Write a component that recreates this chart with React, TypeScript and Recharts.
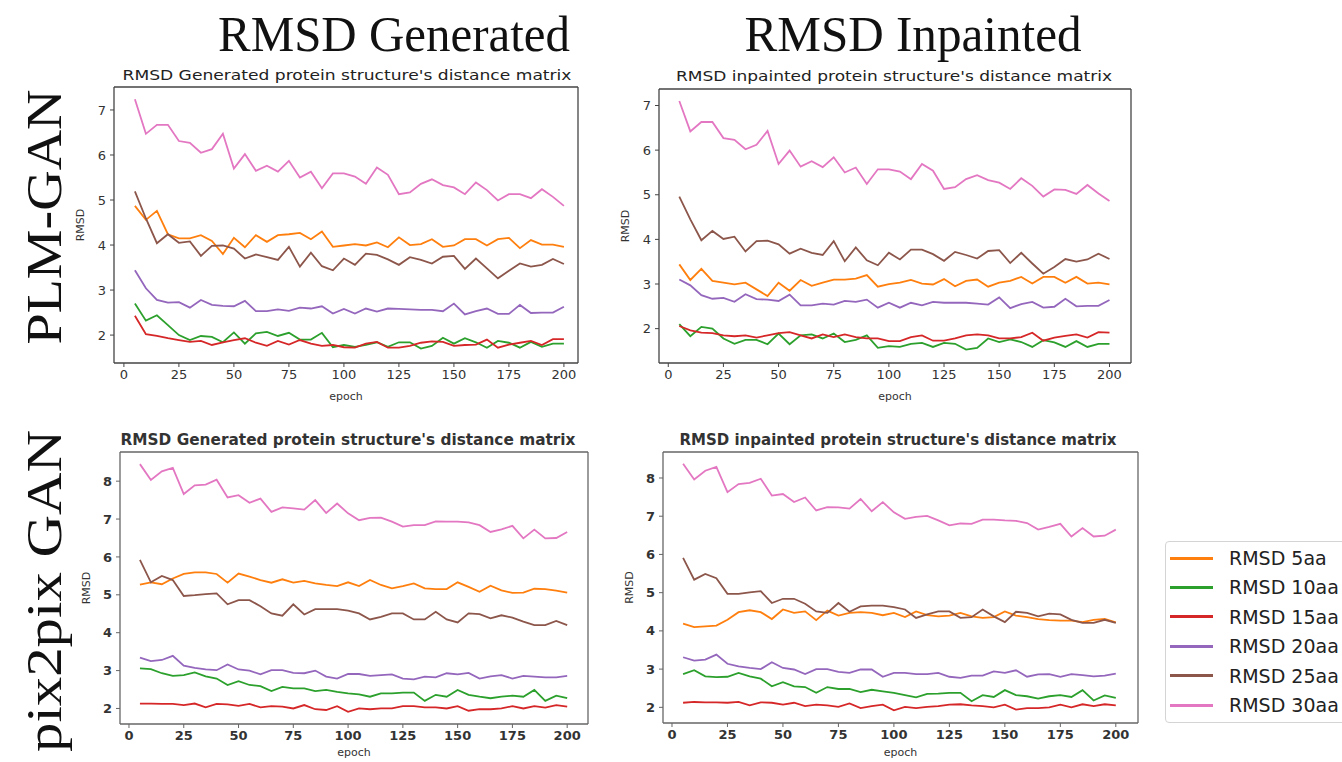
import React from "react";
import { LineChart, Line, XAxis, YAxis, Label } from "recharts";

// epochs shared by all four panels
const EPOCHS = [
  5, 10, 15, 20, 25, 30, 35, 40, 45, 50, 55, 60, 65, 70, 75, 80, 85, 90, 95, 100,
  105, 110, 115, 120, 125, 130, 135, 140, 145, 150, 155, 160, 165, 170, 175, 180, 185, 190, 195, 200,
];
const X_TICKS = [0, 25, 50, 75, 100, 125, 150, 175, 200];
const Y_TICKS_TOP = [2, 3, 4, 5, 6, 7];
const Y_TICKS_BOTTOM = [2, 3, 4, 5, 6, 7, 8];

const SERIES_NAMES = ["RMSD 5aa", "RMSD 10aa", "RMSD 15aa", "RMSD 20aa", "RMSD 25aa", "RMSD 30aa"];
const COLORS = ["#ff7f0e", "#2ca02c", "#d62728", "#9467bd", "#8c564b", "#e377c2"];

// PLM-GAN, generated
const PLM_GEN_5 = [4.87, 4.56, 4.76, 4.24, 4.15, 4.15, 4.22, 4.09, 3.8, 4.16, 3.95, 4.22, 4.07, 4.22, 4.24, 4.27, 4.13, 4.3, 3.96, 3.99, 4.02, 3.99, 4.06, 3.95, 4.17, 4.0, 4.02, 4.13, 3.96, 3.99, 4.13, 4.13, 3.99, 4.13, 4.16, 3.93, 4.11, 4.01, 4.01, 3.96];
const PLM_GEN_10 = [2.7, 2.32, 2.44, 2.22, 2.0, 1.89, 1.98, 1.96, 1.84, 2.06, 1.81, 2.04, 2.07, 1.98, 2.05, 1.9, 1.9, 2.05, 1.73, 1.78, 1.74, 1.78, 1.84, 1.74, 1.84, 1.84, 1.7, 1.76, 1.94, 1.81, 1.93, 1.84, 1.72, 1.87, 1.83, 1.72, 1.85, 1.74, 1.81, 1.81];
const PLM_GEN_15 = [2.43, 2.02, 1.98, 1.93, 1.89, 1.85, 1.87, 1.78, 1.84, 1.89, 1.93, 1.83, 1.76, 1.87, 1.79, 1.89, 1.81, 1.76, 1.78, 1.73, 1.72, 1.81, 1.85, 1.72, 1.72, 1.76, 1.83, 1.86, 1.85, 1.76, 1.78, 1.79, 1.9, 1.72, 1.79, 1.83, 1.87, 1.78, 1.91, 1.91];
const PLM_GEN_20 = [3.44, 3.04, 2.78, 2.72, 2.73, 2.61, 2.78, 2.67, 2.65, 2.64, 2.76, 2.53, 2.53, 2.57, 2.54, 2.61, 2.59, 2.64, 2.48, 2.58, 2.48, 2.59, 2.52, 2.59, 2.58, 2.57, 2.56, 2.56, 2.53, 2.7, 2.46, 2.53, 2.59, 2.47, 2.47, 2.67, 2.49, 2.5, 2.5, 2.63];
const PLM_GEN_25 = [5.19, 4.59, 4.04, 4.24, 4.05, 4.08, 3.76, 3.98, 3.99, 3.92, 3.7, 3.79, 3.73, 3.67, 3.96, 3.52, 3.83, 3.53, 3.44, 3.7, 3.56, 3.81, 3.78, 3.68, 3.56, 3.73, 3.67, 3.59, 3.74, 3.76, 3.47, 3.7, 3.48, 3.26, 3.43, 3.59, 3.52, 3.56, 3.69, 3.58];
const PLM_GEN_30 = [7.24, 6.47, 6.67, 6.67, 6.31, 6.27, 6.05, 6.13, 6.47, 5.7, 6.02, 5.65, 5.76, 5.63, 5.87, 5.5, 5.63, 5.26, 5.59, 5.59, 5.52, 5.36, 5.72, 5.56, 5.13, 5.17, 5.36, 5.46, 5.33, 5.28, 5.13, 5.39, 5.22, 4.99, 5.13, 5.13, 5.04, 5.24, 5.07, 4.87];

// PLM-GAN, inpainted
const PLM_INP_5 = [3.44, 3.09, 3.34, 3.07, 3.03, 2.99, 3.03, 2.88, 2.73, 3.03, 2.85, 3.09, 2.96, 3.03, 3.1, 3.1, 3.12, 3.2, 2.94, 3.0, 3.03, 3.09, 3.01, 2.99, 3.11, 2.95, 3.07, 3.1, 2.94, 3.03, 3.07, 3.16, 3.01, 3.16, 3.16, 3.03, 3.16, 3.01, 3.03, 2.99];
const PLM_INP_10 = [2.1, 1.83, 2.04, 2.0, 1.78, 1.66, 1.75, 1.75, 1.65, 1.89, 1.65, 1.85, 1.87, 1.78, 1.89, 1.7, 1.75, 1.85, 1.57, 1.61, 1.59, 1.66, 1.68, 1.59, 1.68, 1.66, 1.53, 1.57, 1.78, 1.7, 1.76, 1.7, 1.59, 1.74, 1.69, 1.59, 1.72, 1.59, 1.66, 1.66];
const PLM_INP_15 = [2.06, 1.96, 1.91, 1.9, 1.85, 1.83, 1.85, 1.8, 1.85, 1.9, 1.92, 1.85, 1.78, 1.87, 1.81, 1.87, 1.81, 1.78, 1.78, 1.72, 1.72, 1.81, 1.85, 1.73, 1.73, 1.78, 1.85, 1.87, 1.85, 1.78, 1.78, 1.81, 1.91, 1.73, 1.8, 1.84, 1.87, 1.8, 1.92, 1.91];
const PLM_INP_20 = [3.1, 2.97, 2.75, 2.67, 2.69, 2.6, 2.77, 2.66, 2.65, 2.62, 2.76, 2.52, 2.52, 2.56, 2.54, 2.62, 2.6, 2.65, 2.47, 2.58, 2.47, 2.58, 2.52, 2.6, 2.58, 2.58, 2.58, 2.56, 2.54, 2.7, 2.46, 2.55, 2.6, 2.47, 2.49, 2.67, 2.5, 2.51, 2.51, 2.64];
const PLM_INP_25 = [4.96, 4.45, 3.98, 4.19, 4.01, 4.06, 3.73, 3.96, 3.97, 3.89, 3.68, 3.79, 3.7, 3.65, 3.96, 3.51, 3.82, 3.53, 3.42, 3.7, 3.55, 3.77, 3.77, 3.67, 3.52, 3.72, 3.65, 3.57, 3.74, 3.76, 3.47, 3.7, 3.46, 3.23, 3.38, 3.56, 3.5, 3.55, 3.68, 3.56];
const PLM_INP_30 = [7.1, 6.42, 6.63, 6.63, 6.27, 6.23, 6.02, 6.12, 6.43, 5.69, 5.99, 5.63, 5.75, 5.62, 5.84, 5.5, 5.61, 5.24, 5.57, 5.57, 5.52, 5.35, 5.69, 5.54, 5.13, 5.17, 5.35, 5.44, 5.33, 5.27, 5.13, 5.37, 5.2, 4.96, 5.12, 5.11, 5.02, 5.22, 5.03, 4.86];

// pix2pix GAN, generated
const PIX_GEN_5 = [5.27, 5.33, 5.28, 5.43, 5.55, 5.59, 5.59, 5.55, 5.32, 5.56, 5.48, 5.39, 5.32, 5.41, 5.32, 5.37, 5.3, 5.26, 5.23, 5.33, 5.23, 5.39, 5.26, 5.17, 5.23, 5.3, 5.17, 5.15, 5.15, 5.33, 5.21, 5.08, 5.24, 5.12, 5.05, 5.06, 5.16, 5.15, 5.11, 5.06];
const PIX_GEN_10 = [3.06, 3.04, 2.93, 2.86, 2.88, 2.95, 2.85, 2.79, 2.62, 2.72, 2.62, 2.59, 2.46, 2.57, 2.53, 2.53, 2.46, 2.49, 2.44, 2.4, 2.37, 2.31, 2.4, 2.4, 2.42, 2.42, 2.2, 2.36, 2.31, 2.49, 2.36, 2.31, 2.27, 2.31, 2.34, 2.31, 2.49, 2.2, 2.34, 2.27];
const PIX_GEN_15 = [2.13, 2.13, 2.12, 2.12, 2.09, 2.13, 2.03, 2.12, 2.11, 2.07, 2.12, 2.03, 2.06, 2.05, 2.0, 2.09, 1.98, 1.96, 2.06, 1.91, 2.0, 1.98, 2.0, 2.0, 2.06, 2.06, 2.03, 2.03, 2.0, 2.06, 1.94, 1.98, 1.98, 2.0, 2.06, 2.0, 2.06, 2.02, 2.09, 2.05];
const PIX_GEN_20 = [3.34, 3.25, 3.28, 3.39, 3.13, 3.07, 3.03, 3.01, 3.16, 3.03, 3.0, 2.9, 3.01, 3.01, 2.94, 2.93, 3.0, 2.84, 2.79, 2.91, 2.91, 2.86, 2.88, 2.9, 2.79, 2.77, 2.84, 2.82, 2.93, 2.9, 2.94, 2.79, 2.85, 2.88, 2.79, 2.86, 2.84, 2.82, 2.82, 2.86];
const PIX_GEN_25 = [5.92, 5.33, 5.5, 5.39, 4.97, 4.99, 5.02, 5.04, 4.75, 4.86, 4.86, 4.7, 4.51, 4.45, 4.75, 4.48, 4.62, 4.62, 4.62, 4.58, 4.51, 4.35, 4.42, 4.51, 4.51, 4.35, 4.35, 4.55, 4.35, 4.27, 4.51, 4.49, 4.38, 4.46, 4.4, 4.29, 4.2, 4.2, 4.31, 4.2];
const PIX_GEN_30 = [8.45, 8.03, 8.26, 8.35, 7.66, 7.89, 7.91, 8.04, 7.57, 7.63, 7.43, 7.54, 7.19, 7.31, 7.28, 7.25, 7.5, 7.16, 7.41, 7.15, 6.97, 7.03, 7.04, 6.93, 6.8, 6.84, 6.84, 6.94, 6.93, 6.93, 6.91, 6.84, 6.66, 6.73, 6.82, 6.49, 6.72, 6.49, 6.5, 6.66];

// pix2pix GAN, inpainted
const PIX_INP_5 = [4.19, 4.1, 4.12, 4.14, 4.29, 4.49, 4.54, 4.49, 4.31, 4.56, 4.47, 4.51, 4.28, 4.53, 4.4, 4.47, 4.49, 4.47, 4.41, 4.47, 4.36, 4.51, 4.41, 4.38, 4.4, 4.47, 4.38, 4.34, 4.36, 4.51, 4.4, 4.36, 4.31, 4.28, 4.27, 4.27, 4.23, 4.29, 4.31, 4.22];
const PIX_INP_10 = [2.87, 2.97, 2.81, 2.79, 2.8, 2.9, 2.81, 2.75, 2.55, 2.66, 2.55, 2.53, 2.38, 2.53, 2.48, 2.48, 2.4, 2.46, 2.42, 2.38, 2.32, 2.26, 2.35, 2.36, 2.38, 2.38, 2.16, 2.32, 2.27, 2.45, 2.32, 2.29, 2.23, 2.29, 2.32, 2.27, 2.45, 2.18, 2.31, 2.25];
const PIX_INP_15 = [2.12, 2.14, 2.13, 2.13, 2.12, 2.14, 2.05, 2.13, 2.12, 2.07, 2.12, 2.03, 2.07, 2.05, 2.01, 2.1, 1.98, 2.03, 2.07, 1.92, 2.01, 1.98, 2.01, 2.03, 2.07, 2.08, 2.05, 2.03, 2.0, 2.07, 1.94, 1.98, 1.98, 2.0, 2.07, 2.0, 2.08, 2.03, 2.08, 2.05];
const PIX_INP_20 = [3.31, 3.22, 3.25, 3.38, 3.14, 3.07, 3.03, 3.0, 3.18, 3.03, 2.99, 2.87, 3.0, 3.0, 2.93, 2.9, 2.99, 2.99, 2.8, 2.9, 2.9, 2.87, 2.87, 2.9, 2.8, 2.77, 2.83, 2.83, 2.94, 2.9, 2.97, 2.8, 2.86, 2.87, 2.8, 2.87, 2.84, 2.81, 2.83, 2.88];
const PIX_INP_25 = [5.91, 5.34, 5.49, 5.38, 4.97, 4.97, 5.01, 5.04, 4.73, 4.84, 4.84, 4.71, 4.51, 4.47, 4.73, 4.5, 4.64, 4.66, 4.66, 4.62, 4.56, 4.34, 4.43, 4.51, 4.51, 4.34, 4.36, 4.56, 4.38, 4.23, 4.5, 4.47, 4.38, 4.45, 4.43, 4.29, 4.21, 4.21, 4.29, 4.21];
const PIX_INP_30 = [8.37, 7.96, 8.19, 8.29, 7.63, 7.84, 7.87, 7.98, 7.54, 7.58, 7.37, 7.49, 7.15, 7.24, 7.23, 7.2, 7.45, 7.13, 7.37, 7.1, 6.93, 6.98, 7.01, 6.89, 6.76, 6.81, 6.8, 6.91, 6.91, 6.89, 6.88, 6.82, 6.65, 6.72, 6.8, 6.47, 6.69, 6.47, 6.49, 6.65];

const TITLE_GEN = "RMSD Generated protein structure's distance matrix";
const TITLE_INP = "RMSD inpainted protein structure's distance matrix";

// layout of each subplot (frame = plot box in page pixels)
const PANELS = [
  {
    key: "plm-gen",
    series: [PLM_GEN_5, PLM_GEN_10, PLM_GEN_15, PLM_GEN_20, PLM_GEN_25, PLM_GEN_30],
    frame: { x: 114, y: 87, w: 464, h: 276 },
    xDomain: [-4.5, 206.4],
    yDomain: [1.38, 7.51],
    yTicks: Y_TICKS_TOP,
    bold: false,
    epochOffset: 5,
  },
  {
    key: "plm-inp",
    series: [PLM_INP_5, PLM_INP_10, PLM_INP_15, PLM_INP_20, PLM_INP_25, PLM_INP_30],
    frame: { x: 659, y: 89, w: 472, h: 274 },
    xDomain: [-4.2, 209.75],
    yDomain: [1.23, 7.37],
    yTicks: Y_TICKS_TOP,
    bold: false,
    epochOffset: 5,
  },
  {
    key: "pix-gen",
    series: [PIX_GEN_5, PIX_GEN_10, PIX_GEN_15, PIX_GEN_20, PIX_GEN_25, PIX_GEN_30],
    frame: { x: 120, y: 452, w: 468, h: 272 },
    xDomain: [-4.1, 209.5],
    yDomain: [1.59, 8.77],
    yTicks: Y_TICKS_BOTTOM,
    bold: true,
    epochOffset: 10,
  },
  {
    key: "pix-inp",
    series: [PIX_INP_5, PIX_INP_10, PIX_INP_15, PIX_INP_20, PIX_INP_25, PIX_INP_30],
    frame: { x: 663, y: 452, w: 475, h: 271 },
    xDomain: [-4.05, 210],
    yDomain: [1.59, 8.68],
    yTicks: Y_TICKS_BOTTOM,
    bold: true,
    epochOffset: 9,
  },
];

const FONT = "DejaVu Sans";
const SPINE = "#444";

function Panel({ p }: any) {
  const data = EPOCHS.map((e, i) => {
    const row: any = { epoch: e };
    p.series.forEach((s: number[], k: number) => {
      row["s" + k] = s[i];
    });
    return row;
  });

  const ML = 60;
  const MT = 2;
  const MR = 4;
  const XH = 42;
  const width = ML + p.frame.w + MR;
  const height = MT + p.frame.h + XH;
  const tickStyle = {
    fill: "#333",
    fontSize: 13,
    fontFamily: FONT,
    fontWeight: p.bold ? 600 : 400,
  };
  const spineColor = p.bold ? "#666" : SPINE;

  return (
    <div style={{ position: "absolute", left: p.frame.x - ML, top: p.frame.y - MT }}>
      <LineChart
        width={width}
        height={height}
        data={data}
        margin={{ top: MT, right: MR, left: 20, bottom: 0 }}
      >
        <XAxis
          dataKey="epoch"
          type="number"
          domain={p.xDomain}
          ticks={X_TICKS}
          allowDataOverflow
          height={XH}
          tickSize={4}
          tickMargin={3}
          tick={tickStyle}
          stroke={spineColor}
          axisLine={{ stroke: spineColor, strokeWidth: 1.3 }}
          tickLine={{ stroke: spineColor }}
        >
          <Label
            value="epoch"
            position="insideBottom"
            offset={p.epochOffset}
            style={{ fill: "#333", fontSize: 11, fontFamily: FONT }}
          />
        </XAxis>
        <XAxis
          xAxisId="top"
          dataKey="epoch"
          type="number"
          domain={p.xDomain}
          allowDataOverflow
          orientation="top"
          mirror
          tick={false}
          tickLine={false}
          axisLine={{ stroke: spineColor, strokeWidth: 1.3 }}
        />
        <YAxis
          type="number"
          domain={p.yDomain}
          ticks={p.yTicks}
          allowDataOverflow
          width={40}
          tickSize={4}
          tickMargin={4}
          tick={tickStyle}
          axisLine={{ stroke: spineColor, strokeWidth: 1.3 }}
          tickLine={{ stroke: spineColor }}
        >
          <Label
            value="RMSD"
            angle={-90}
            position="insideLeft"
            offset={6}
            style={{ fill: "#333", fontSize: 11, fontFamily: FONT, textAnchor: "middle" }}
          />
        </YAxis>
        <YAxis
          yAxisId="right"
          type="number"
          domain={p.yDomain}
          allowDataOverflow
          orientation="right"
          mirror
          tick={false}
          tickLine={false}
          axisLine={{ stroke: spineColor, strokeWidth: 1.3 }}
        />
        {SERIES_NAMES.map((name, k) => (
          <Line
            key={name}
            name={name}
            dataKey={"s" + k}
            type="linear"
            stroke={COLORS[k]}
            strokeWidth={1.8}
            dot={false}
            activeDot={false}
            isAnimationActive={false}
          />
        ))}
      </LineChart>
    </div>
  );
}

function Titles() {
  return (
    <svg
      width={1342}
      height={762}
      style={{ position: "absolute", left: 0, top: 0, pointerEvents: "none" }}
    >
      <g fontFamily="Liberation Serif" fill="#111" fontSize={50}>
        <text x={394} y={51} textAnchor="middle" textLength={352} lengthAdjust="spacingAndGlyphs">
          RMSD Generated
        </text>
        <text x={913} y={51} textAnchor="middle" textLength={337} lengthAdjust="spacingAndGlyphs">
          RMSD Inpainted
        </text>
        <text
          transform="translate(61,217) rotate(-90)"
          textAnchor="middle"
          textLength={255}
          lengthAdjust="spacingAndGlyphs"
        >
          PLM-GAN
        </text>
        <text
          transform="translate(61,591) rotate(-90)"
          textAnchor="middle"
          textLength={322}
          lengthAdjust="spacingAndGlyphs"
        >
          pix2pix GAN
        </text>
      </g>
      <g fontFamily={FONT} fill="#222">
        <text x={347} y={80} fontSize={14} textAnchor="middle" textLength={449} lengthAdjust="spacingAndGlyphs">
          {TITLE_GEN}
        </text>
        <text x={894} y={81} fontSize={14} textAnchor="middle" textLength={436} lengthAdjust="spacingAndGlyphs">
          {TITLE_INP}
        </text>
        <text x={348} y={445} fontSize={15} fontWeight={600} fill="#333" textAnchor="middle" textLength={455} lengthAdjust="spacingAndGlyphs">
          {TITLE_GEN}
        </text>
        <text x={898} y={445} fontSize={15} fontWeight={600} fill="#333" textAnchor="middle" textLength={437} lengthAdjust="spacingAndGlyphs">
          {TITLE_INP}
        </text>
      </g>
    </svg>
  );
}

function Legend() {
  return (
    <div
      style={{
        position: "absolute",
        left: 1165,
        top: 541,
        width: 200,
        height: 182,
        border: "1px solid #d4d4d4",
        borderRadius: 4,
        boxSizing: "border-box",
        fontFamily: FONT,
      }}
    >
      {SERIES_NAMES.map((name, k) => (
        <div
          key={name}
          style={{
            position: "absolute",
            left: 4,
            top: 16 + k * 29.4 - 14,
            height: 28,
            display: "flex",
            alignItems: "center",
            whiteSpace: "nowrap",
          }}
        >
          <div style={{ width: 43, height: 3, background: COLORS[k] }} />
          <span style={{ marginLeft: 16, fontSize: 19, color: "#222" }}>{name}</span>
        </div>
      ))}
    </div>
  );
}

export default function App() {
  return (
    <div
      style={{
        position: "fixed",
        left: 0,
        top: 0,
        width: 1342,
        height: 762,
        overflow: "hidden",
        background: "#fff",
      }}
    >
      {PANELS.map((p) => (
        <Panel key={p.key} p={p} />
      ))}
      <Titles />
      <Legend />
    </div>
  );
}
